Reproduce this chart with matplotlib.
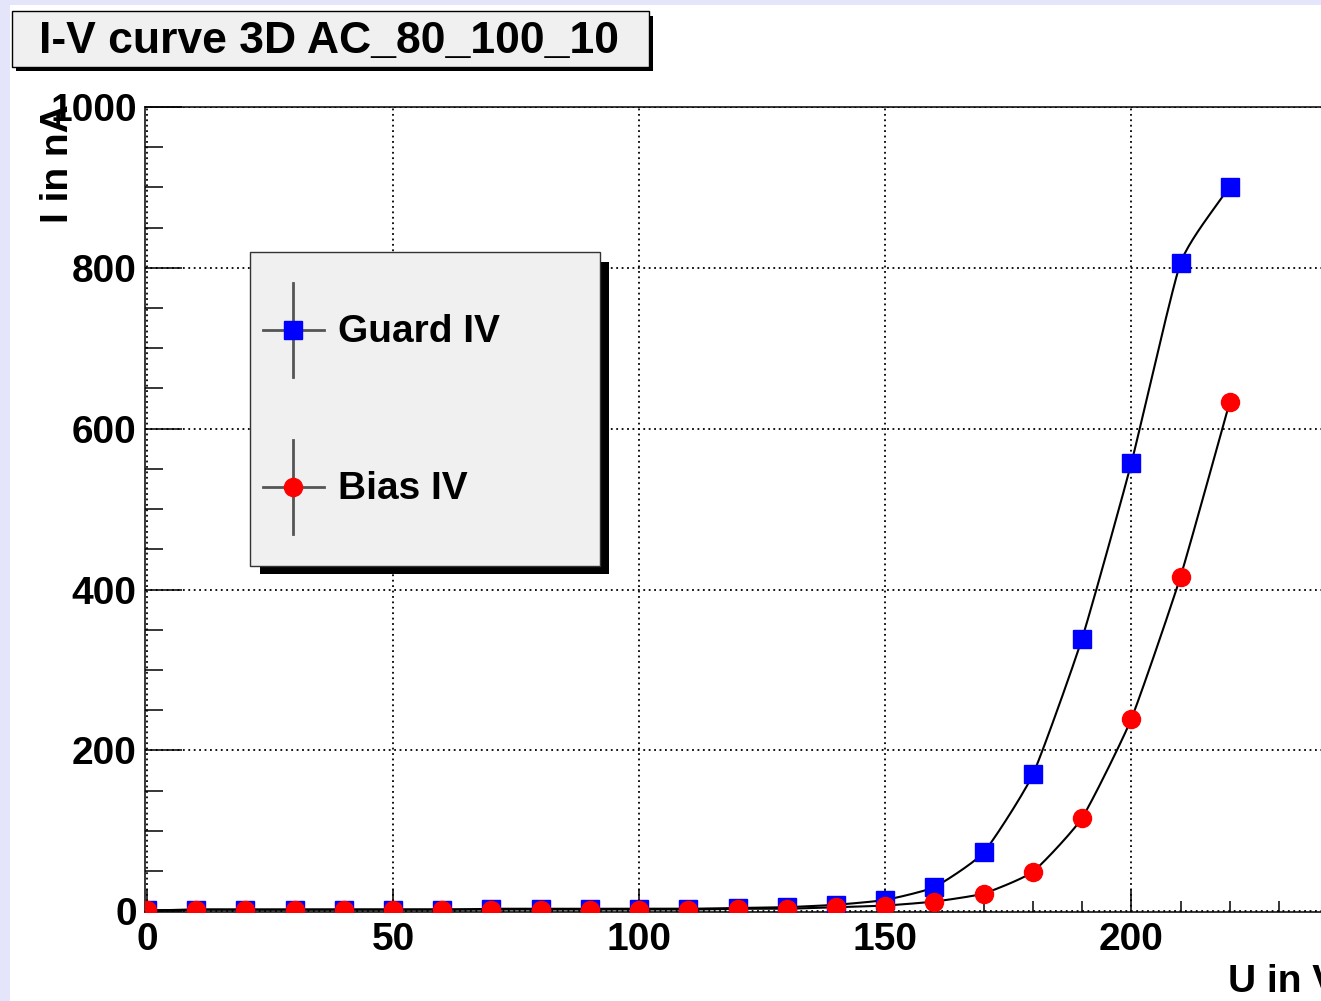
import numpy as np
import matplotlib.pyplot as plt
from matplotlib.patches import Rectangle
from matplotlib.lines import Line2D
from matplotlib.ticker import MultipleLocator

# measured I-V points
voltage = [0, 10, 20, 30, 40, 50, 60, 70, 80, 90, 100, 110,
           120, 130, 140, 150, 160, 170, 180, 190, 200, 210, 220]
guard_current = [1, 2, 2, 2, 2, 2, 2, 3, 3, 3, 3, 3,
                 4, 5, 8, 14, 30, 73, 170, 339, 557, 806, 901]
bias_current = [1, 2, 2, 2, 2, 2, 2, 2, 2, 2, 2, 2,
                3, 3, 5, 7, 12, 22, 49, 116, 239, 416, 633]

title = "I-V curve 3D AC_80_100_10"
W, H = 1321, 1001
FONT = "Liberation Sans"


def smooth(ax, x, y, n=24, tension=0.5):
    # cardinal spline in screen space, used only for the connecting line
    pts = ax.transData.transform(np.column_stack([x, y]).astype(float))
    tang = np.zeros_like(pts)
    tang[1:-1] = (pts[2:] - pts[:-2]) / 2
    tang[0] = pts[1] - pts[0]
    tang[-1] = pts[-1] - pts[-2]
    tang *= tension
    t = np.linspace(0, 1, n, endpoint=False)[:, None]
    h00 = 2 * t ** 3 - 3 * t ** 2 + 1
    h10 = t ** 3 - 2 * t ** 2 + t
    h01 = -2 * t ** 3 + 3 * t ** 2
    h11 = t ** 3 - t ** 2
    out = []
    for i in range(len(pts) - 1):
        out.append(h00 * pts[i] + h10 * tang[i] + h01 * pts[i + 1] + h11 * tang[i + 1])
    out.append(pts[-1][None, :])
    back = ax.transData.inverted().transform(np.vstack(out))
    return back[:, 0], back[:, 1]


def fx(px):
    return px / W


def fy(py):
    return 1 - py / H


fig = plt.figure(figsize=(W / 100, H / 100), dpi=100)
fig.patch.set_facecolor("white")

# window border strips
fig.add_artist(Rectangle((0, 0), fx(10), 1, transform=fig.transFigure,
                         facecolor="#e4e4fa", edgecolor="none"))
fig.add_artist(Rectangle((0, fy(5)), 1, 5 / H, transform=fig.transFigure,
                         facecolor="#e4e4fa", edgecolor="none"))

ax = fig.add_axes([fx(145), fy(912), (1338 - 145) / W, (912 - 107) / H])
ax.set_xlim(-0.4, 242)
ax.set_ylim(-1, 1000)

ax.xaxis.set_major_locator(MultipleLocator(50))
ax.xaxis.set_minor_locator(MultipleLocator(10))
ax.yaxis.set_major_locator(MultipleLocator(200))
ax.yaxis.set_minor_locator(MultipleLocator(50))
ax.grid(True, which="major", color="black", linestyle=(0, (1, 2)), linewidth=1.3)

ax.tick_params(axis="x", which="major", direction="in", length=16.5, width=1.1, pad=7)
ax.tick_params(axis="x", which="minor", direction="in", length=8, width=1.1)
ax.tick_params(axis="y", which="major", direction="in", length=26.5, width=1.1, pad=6)
ax.tick_params(axis="y", which="minor", direction="in", length=13, width=1.1)
for lab in ax.get_xticklabels() + ax.get_yticklabels():
    lab.set_fontfamily(FONT)
    lab.set_fontweight("bold")
    lab.set_fontsize(28)
for sp in ax.spines.values():
    sp.set_linewidth(1.1)

gx, gy = smooth(ax, voltage, guard_current)
bx, by = smooth(ax, voltage, bias_current)
ax.plot(gx, gy, color="black", lw=1.5, zorder=3)
ax.plot(bx, by, color="black", lw=1.5, zorder=3)
ax.plot(voltage, guard_current, ls="none", marker="s", ms=13, color="#0000ff",
        mec="#0000ff", zorder=4)
ax.plot(voltage, bias_current, ls="none", marker="o", ms=13, color="#ff0000",
        mec="#ff0000", zorder=5)

ax.set_xlabel("U in V", loc="right", fontfamily=FONT, fontweight="bold", fontsize=28)
ax.xaxis.set_label_coords(1.0, -0.065)
ax.set_ylabel("I in nA", loc="top", fontfamily=FONT, fontweight="bold", fontsize=28)
ax.yaxis.set_label_coords(-0.058, 1.003)

# title box with shadow
fig.add_artist(Rectangle((fx(16), fy(71)), (653 - 16) / W, (71 - 16) / H,
                         transform=fig.transFigure, facecolor="black", edgecolor="none"))
fig.add_artist(Rectangle((fx(12), fy(67)), (649 - 12) / W, (67 - 11) / H,
                         transform=fig.transFigure, facecolor="#f0f0f0",
                         edgecolor="black", lw=1.0))
fig.text(fx(329), fy(41), title, ha="center", va="center", fontfamily=FONT,
         fontweight="bold", fontsize=32)

# legend box with shadow
fig.add_artist(Rectangle((fx(260), fy(574)), (609 - 260) / W, (574 - 262) / H,
                         transform=fig.transFigure, facecolor="black", edgecolor="none",
                         zorder=6))
fig.add_artist(Rectangle((fx(250), fy(566)), (600 - 250) / W, (566 - 252) / H,
                         transform=fig.transFigure, facecolor="#f0f0f0",
                         edgecolor="#333333", lw=1.0, zorder=7))
entries = [("Guard IV", "s", "#0000ff", 330), ("Bias IV", "o", "#ff0000", 487)]
for name, mk, col, yc in entries:
    fig.add_artist(Line2D([fx(293), fx(293)], [fy(yc - 47), fy(yc + 47)],
                          transform=fig.transFigure, color="#555555", lw=2, zorder=8))
    fig.add_artist(Line2D([fx(263), fx(324)], [fy(yc), fy(yc)],
                          transform=fig.transFigure, color="#555555", lw=2, zorder=8))
    fig.add_artist(Line2D([fx(293)], [fy(yc)], transform=fig.transFigure, ls="none",
                          marker=mk, ms=13, color=col, mec=col, zorder=9))
    fig.text(fx(338), fy(yc + 2), name, ha="left", va="center", fontfamily=FONT,
             fontweight="bold", fontsize=28, zorder=10)

fig.savefig("out.png", dpi=100)
